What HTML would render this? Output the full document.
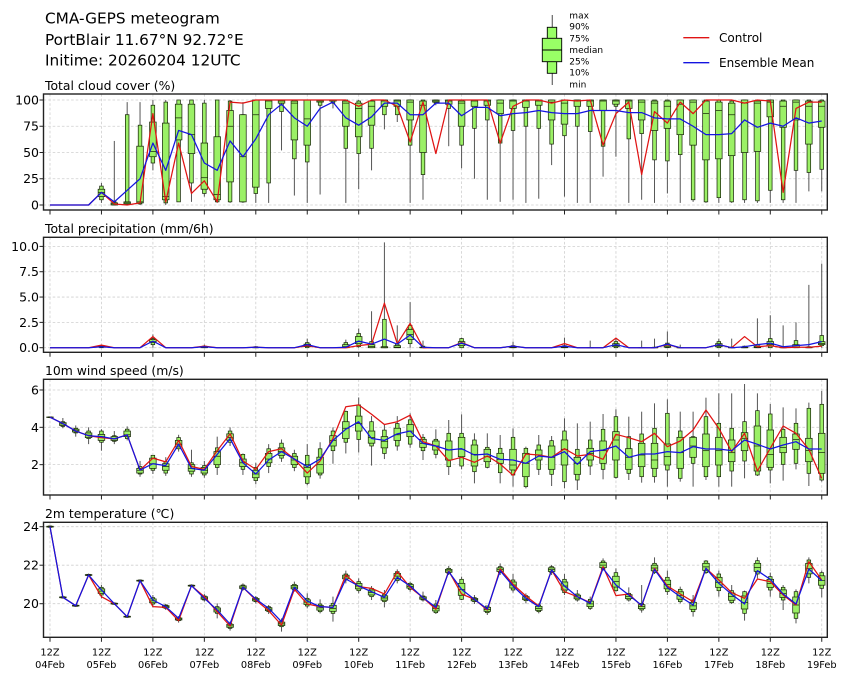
<!DOCTYPE html>
<html><head><meta charset="utf-8">
<style>
html,body{margin:0;padding:0;background:#fff;}
svg{display:block;font-family:"DejaVu Sans","Liberation Sans",sans-serif;}
</style></head>
<body>
<svg id="c" width="849" height="681" viewBox="0 0 849 681" xmlns="http://www.w3.org/2000/svg">
<rect width="849" height="681" fill="#fff"/>
<defs>
<clipPath id="cp0"><rect x="43.5" y="94" width="783.8" height="116"/></clipPath>
<clipPath id="cp1"><rect x="43.5" y="237.3" width="783.8" height="115"/></clipPath>
<clipPath id="cp2"><rect x="43.5" y="379.3" width="783.8" height="115.7"/></clipPath>
<clipPath id="cp3"><rect x="43.5" y="522.3" width="783.8" height="115"/></clipPath>
</defs>
<g id="grid"></g>
<g id="data"></g>
<g id="frame"></g>

<!-- titles -->
<g fill="#000" font-size="15.3">
<text x="45" y="23.3">CMA-GEPS meteogram</text>
<text x="45" y="45">PortBlair 11.67°N 92.72°E</text>
<text x="45" y="65.7">Initime: 20260204 12UTC</text>
</g>

<!-- box legend -->
<line x1="552.3" y1="15" x2="552.3" y2="85" stroke="#666" stroke-width="1.2"/>
<rect x="547.3" y="27.3" width="9.4" height="46" fill="#99ff66" stroke="#000" stroke-width="0.9"/>
<rect x="542.3" y="38.3" width="19.4" height="23.4" fill="#99ff66" stroke="#000" stroke-width="0.9"/>
<line x1="542.3" y1="50" x2="561.7" y2="50" stroke="#000" stroke-width="0.9"/>
<g font-size="9" fill="#000">
<text x="569.3" y="18.3">max</text>
<text x="569.3" y="29.6">90%</text>
<text x="569.3" y="41.3">75%</text>
<text x="569.3" y="53.2">median</text>
<text x="569.3" y="64.3">25%</text>
<text x="569.3" y="75.6">10%</text>
<text x="569.3" y="87.4">min</text>
</g>

<!-- line legend -->
<line x1="683.3" y1="37.7" x2="709.3" y2="37.7" stroke="#e01414" stroke-width="1.3"/>
<line x1="683.3" y1="62.7" x2="709.3" y2="62.7" stroke="#1414e0" stroke-width="1.3"/>
<g font-size="12" fill="#000">
<text x="719" y="42">Control</text>
<text x="719" y="67">Ensemble Mean</text>
</g>

<!-- panel titles -->
<g font-size="12.4" fill="#000">
<text x="45" y="90">Total cloud cover (%)</text>
<text x="45" y="232.8">Total precipitation (mm/6h)</text>
<text x="45" y="375">10m wind speed (m/s)</text>
<text x="45" y="518">2m temperature (℃)</text>
</g>

<!-- y tick labels -->
<g font-size="12.5" fill="#000" text-anchor="end">
<text x="39" y="104.5">100</text>
<text x="39" y="130.7">75</text>
<text x="39" y="157">50</text>
<text x="39" y="183.2">25</text>
<text x="39" y="209.5">0</text>
<text x="39" y="250.9">10.0</text>
<text x="39" y="276.2">7.5</text>
<text x="39" y="301.5">5.0</text>
<text x="39" y="326.9">2.5</text>
<text x="39" y="352.2">0.0</text>
<text x="39" y="394.5">6</text>
<text x="39" y="431.8">4</text>
<text x="39" y="469.2">2</text>
<text x="39" y="531.2">24</text>
<text x="39" y="569.7">22</text>
<text x="39" y="608.2">20</text>
</g>

<!-- x tick labels -->
<g font-size="9.8" fill="#000" text-anchor="middle">
<text x="50" y="655.6">12Z</text><text x="50" y="667.8">04Feb</text>
<text x="101.45" y="655.6">12Z</text><text x="101.45" y="667.8">05Feb</text>
<text x="152.9" y="655.6">12Z</text><text x="152.9" y="667.8">06Feb</text>
<text x="204.35" y="655.6">12Z</text><text x="204.35" y="667.8">07Feb</text>
<text x="255.8" y="655.6">12Z</text><text x="255.8" y="667.8">08Feb</text>
<text x="307.25" y="655.6">12Z</text><text x="307.25" y="667.8">09Feb</text>
<text x="358.7" y="655.6">12Z</text><text x="358.7" y="667.8">10Feb</text>
<text x="410.15" y="655.6">12Z</text><text x="410.15" y="667.8">11Feb</text>
<text x="461.6" y="655.6">12Z</text><text x="461.6" y="667.8">12Feb</text>
<text x="513.05" y="655.6">12Z</text><text x="513.05" y="667.8">13Feb</text>
<text x="564.5" y="655.6">12Z</text><text x="564.5" y="667.8">14Feb</text>
<text x="615.95" y="655.6">12Z</text><text x="615.95" y="667.8">15Feb</text>
<text x="667.4" y="655.6">12Z</text><text x="667.4" y="667.8">16Feb</text>
<text x="718.85" y="655.6">12Z</text><text x="718.85" y="667.8">17Feb</text>
<text x="770.3" y="655.6">12Z</text><text x="770.3" y="667.8">18Feb</text>
<text x="821.75" y="655.6">12Z</text><text x="821.75" y="667.8">19Feb</text>
</g>
</svg>
<script>
(function(){
const NS='http://www.w3.org/2000/svg';
function el(tag,a,p){const e=document.createElementNS(NS,tag);for(const k in a)e.setAttribute(k,a[k]);p.appendChild(e);return e;}
const X=i=>50+i*12.862;
const L=43.5,R=827.3;
const P=[
 {t:94,b:210,yt:[0,25,50,75,100],f:v=>205-1.05*v},
 {t:237.3,b:352.3,yt:[0,2.5,5,7.5,10],f:v=>347.7-10.13*v},
 {t:379.3,b:495,yt:[2,4,6],f:v=>502-18.67*v},
 {t:522.3,b:637.3,yt:[20,22,24],f:v=>603.7-19.25*(v-20)}
];
const grid=document.getElementById('grid'),data=document.getElementById('data'),frame=document.getElementById('frame');
P.forEach((p,k)=>{
  for(let d=0;d<=15;d++){const x=50+51.45*d;
    el('line',{x1:x,x2:x,y1:p.t,y2:p.b,stroke:'#cfcfcf','stroke-width':0.8,'stroke-dasharray':'2.6,2'},grid);
    el('line',{x1:x,x2:x,y1:p.b,y2:p.b+4.5,stroke:'#222','stroke-width':1},frame);}
  p.yt.forEach(v=>{const y=p.f(v);
    el('line',{x1:L,x2:R,y1:y,y2:y,stroke:'#cfcfcf','stroke-width':0.8,'stroke-dasharray':'2.6,2'},grid);
    el('line',{x1:L-4,x2:L,y1:y,y2:y,stroke:'#222','stroke-width':1},frame);});
  el('rect',{x:L,y:p.t,width:R-L,height:p.b-p.t,fill:'none',stroke:'#222','stroke-width':1.4},frame);
});
const G=[0,1,2,3].map(k=>el('g',{'clip-path':'url(#cp'+k+')'},data));
// box with pixel ys: max,p90,p75,med,p25,p10,min
function box(g,x,ys){
  const [mx,p90,p75,md,p25,p10,mn]=ys;
  if(Math.abs(mn-mx)<0.01)return;
  el('line',{x1:x,x2:x,y1:mx,y2:mn,stroke:'#555','stroke-width':1},g);
  el('rect',{x:x-1.8,y:p90,width:3.6,height:Math.max(0.1,p10-p90),fill:'#9bf066',stroke:'#1c2c0c','stroke-width':0.75},g);
  el('rect',{x:x-3.3,y:p75,width:6.6,height:Math.max(0.1,p25-p75),fill:'#9bf066',stroke:'#1c2c0c','stroke-width':0.75},g);
  el('line',{x1:x-3.3,x2:x+3.3,y1:md,y2:md,stroke:'#1c2c0c','stroke-width':0.75},g);
}
function line(g,ys,col){
  el('polyline',{points:ys.map((y,i)=>X(i).toFixed(2)+','+y.toFixed(2)).join(' '),fill:'none',stroke:col,'stroke-width':1.25,'stroke-linejoin':'round'},g);
}
function vbox(g,f,i,v){ // v=[min,p10,p25,med,p75,p90,max]
  box(g,X(i),[f(v[6]),f(v[5]),f(v[4]),f(v[3]),f(v[2]),f(v[1]),f(v[0])]);
}
const RED='#e01414',BLUE='#1414e0';

// ---------- Panel 1: cloud ----------
const cb=[[0,0,0,0,0,0,0],[0,0,0,0,0,0,0],[0,0,0,0,0,0,0],[0,0,0,0,0,0,0],
[2,5,8,12,15,18,21],[0,0,0,1,2,3,61],[0,1,1,2,3,86,98],[0,1,2,3,56,76,98],
[33,40,46,51,79,95,100],[0,2,5,8,78,98,100],[3,3,62,83,96,100,100],[3,21,49,67,96,100,100],
[8,11,15,26,59,97,100],[2,3,5,10,65,100,100],[2,3,22,75,90,99,100],[2,3,3,46,86,86,98],
[2,11,17,86,100,100,100],[2,21,92,99,100,100,100],[52,89,97,99,100,100,100],[9,44,62,97,99,100,100],
[2,41,57,82,100,100,100],[10,95,98,99,100,100,100],[92,97,99,100,100,100,100],[2,54,75,97,99,100,100],
[15,49,65,92,97,99,100],[33,54,76,94,99,99,100],[72,86,94,99,100,100,100],[79,86,94,99,100,100,100],
[2,57,81,98,100,100,100],[5,29,50,95,99,100,100],[95,97,98,99,100,100,100],[56,92,96,99,100,100,100],
[35,57,75,97,99,100,100],[25,73,94,99,100,100,100],[5,81,95,99,100,100,100],[3,59,87,97,100,100,100],
[5,71,92,99,100,100,100],[2,75,93,99,100,100,100],[6,73,95,99,100,100,100],[38,58,81,98,100,100,100],
[8,66,77,97,100,100,100],[2,75,94,99,100,100,100],[2,70,94,99,100,100,100],[27,56,90,99,100,100,100],
[46,94,96,99,100,100,100],[2,63,92,99,100,100,100],[5,68,81,98,100,100,100],[2,43,71,97,99,100,100],
[11,42,73,94,99,100,100],[2,48,67,96,100,100,100],[3,5,57,98,100,100,100],[2,3,43,87,99,100,100],
[2,7,44,90,98,100,100],[2,3,47,86,97,99,100],[2,5,50,97,100,100,100],[2,4,51,97,99,100,100],
[2,14,84,98,100,100,100],[2,5,74,94,99,100,100],[2,33,81,98,100,100,100],[13,31,58,94,99,100,100],
[13,34,74,94,99,100,100]];
const r1=[0,0,0,0,12,1,0,2,87,3,59,11,23,3,98,97,100,100,100,100,100,100,100,100,94,100,100,94,60,98,49,100,100,100,100,59,94,100,100,97,100,99,100,57,87,98,29,89,78,98,87,100,100,100,97,100,99,12,92,98,98];
const b1=[0,0,0,0,12,3,14,25,59,33,71,67,40,33,61,46,63,86,96,83,75,92,98,83,76,84,97,97,86,86,97,97,85,93,93,85,87,88,90,88,87,87,90,90,90,88,88,83,82,82,75,67,67,68,81,74,78,75,83,78,80];
cb.forEach((v,i)=>vbox(G[0],P[0].f,i,v));
line(G[0],r1.map(P[0].f),RED);line(G[0],b1.map(P[0].f),BLUE);

// ---------- Panel 2: precip ----------
const pb={4:[0,0,0.05,0.1,0.15,0.2,0.3],8:[0,0.3,0.5,0.6,0.8,0.9,1.3],12:[0,0,0,0.05,0.1,0.15,0.3],16:[0,0,0,0,0.05,0.1,0.15],
20:[0,0,0.1,0.2,0.35,0.5,0.9],23:[0,0,0,0.1,0.3,0.5,0.8],24:[0,0.1,0.4,0.6,1.1,1.4,1.9],25:[0,0,0,0.1,0.3,0.6,3.6],
26:[0,0,0,0,0.1,2.8,10.4],27:[0,0,0,0.05,0.2,0.35,2.2],28:[0,0.4,0.8,1.3,1.8,2.2,4.5],29:[0,0,0,0,0.05,0.15,0.7],
32:[0,0,0.2,0.4,0.6,0.9,1.0],36:[0,0,0,0.05,0.1,0.2,0.6],40:[0,0,0,0.05,0.1,0.2,1.0],42:[0,0,0,0,0,0,0.7],
44:[0,0,0.1,0.2,0.4,0.6,1.0],46:[0,0,0,0,0,0,0.7],47:[0,0,0,0,0,0.05,0.9],48:[0,0,0.05,0.15,0.3,0.45,1.6],
49:[0,0,0,0,0,0,0.3],52:[0,0,0.1,0.2,0.4,0.6,0.9],53:[0,0,0,0,0,0.05,0.9],54:[0,0,0,0,0.05,0.15,0.2],
55:[0,0,0,0.05,0.15,0.3,2.9],56:[0,0,0.15,0.3,0.6,0.9,3.2],57:[0,0,0,0,0.05,0.1,2.2],58:[0,0,0,0.05,0.3,0.7,2.5],
59:[0,0,0,0,0.05,0.1,6.2],60:[0,0.2,0.3,0.4,0.6,1.2,8.3]};
const r2o={4:0.25,8:1.1,12:0.15,16:0.05,20:0.2,24:0.2,25:0.35,26:4.4,27:0.4,28:2.4,32:0.5,36:0.15,40:0.4,44:0.95,48:0.3,52:0.3,54:1.1,55:0.1,56:0.2,58:0.05,59:0.05,60:0.15};
const b2o={4:0.1,8:0.65,12:0.1,16:0.05,20:0.3,23:0.05,24:0.65,25:0.35,26:0.85,27:0.35,28:1.25,29:0.05,32:0.45,36:0.15,40:0.15,44:0.3,48:0.35,52:0.3,54:0.1,55:0.3,56:0.45,57:0.1,58:0.2,59:0.3,60:0.6};
for(const k in pb)vbox(G[1],P[1].f,+k,pb[k]);
const r2=[],b2=[];for(let i=0;i<61;i++){r2.push(P[1].f(r2o[i]||0));b2.push(P[1].f(b2o[i]||0));}
line(G[1],r2,RED);line(G[1],b2,BLUE);

// ---------- Panel 3: wind ----------
const wl=[[4.5,4.52,4.53,4.54,4.55,4.56,4.58],[3.95,4.05,4.1,4.18,4.25,4.3,4.5],[3.5,3.7,3.75,3.82,3.9,3.95,4.1],
[3.1,3.4,3.45,3.58,3.7,3.8,4.0],[2.75,3.2,3.3,3.5,3.62,3.8,3.9],[3.1,3.25,3.3,3.38,3.5,3.55,3.8],[3.3,3.4,3.5,3.6,3.8,3.9,4.05],
[1.35,1.5,1.55,1.7,1.8,1.9,2.2],[1.5,1.7,1.8,2.05,2.35,2.5,2.5],[1.4,1.55,1.7,1.9,2.05,2.15,2.4],[2.7,2.85,2.95,3.1,3.3,3.45,3.6],
[1.35,1.5,1.65,1.8,2.0,2.1,2.8],[1.3,1.45,1.55,1.7,1.85,1.95,2.2],[1.45,1.85,2.0,2.45,2.7,2.9,3.5],[3.0,3.2,3.3,3.45,3.65,3.8,4.0],
[1.45,1.75,1.9,2.1,2.3,2.55,2.6],[0.95,1.15,1.3,1.5,1.7,1.85,2.1],[1.55,1.9,2.1,2.3,2.6,2.85,3.1],[2.15,2.35,2.5,2.7,2.9,3.15,3.35],
[1.65,1.85,2.0,2.25,2.45,2.6,2.8],[0.9,1.0,1.35,1.85,2.0,2.5,3.1],[1.25,1.45,1.55,2.0,2.4,2.85,3.2],[2.05,2.75,3.0,3.3,3.55,3.8,4.0],
[2.6,3.2,3.4,3.95,4.3,4.85,4.9],[2.65,3.35,3.8,4.2,4.6,5.2,5.6],[1.95,3.0,3.15,3.45,3.8,4.3,4.6],[2.3,2.6,2.9,3.25,3.5,3.85,4.15],
[2.75,3.0,3.3,3.6,3.95,4.2,4.6],[2.9,3.1,3.5,3.8,4.15,4.4,4.75]];
wl.forEach((v,i)=>vbox(G[2],P[2].f,i,v));
const wr=[[222,232,238,250,262,272,300],[208,238,243,258,270,283,295],[180,220,243,270,300,320,345],[163,220,232,268,290,318,328],
[220,240,255,283,318,335,370],[220,262,268,290,305,322,325],[225,265,280,298,310,338,370],[205,232,268,315,330,345,380],
[260,265,280,310,350,380,385],[225,255,270,285,300,328,345],[228,242,258,292,328,343,378],[175,213,240,268,315,365,385],
[190,268,292,310,343,360,390],[185,240,265,280,300,318,345],[162,208,243,272,310,328,358],[148,170,215,240,300,352,356],
[170,230,266,292,328,340,360],[155,222,250,285,320,350,368],[130,205,250,300,325,350,368],[118,160,252,290,315,330,380],
[155,213,232,278,325,355,365],[155,230,232,258,292,310,380],[113,170,222,272,320,350,360],[100,190,232,272,315,350,380],
[100,205,240,278,305,333,380],[72,185,218,235,272,303,355],[100,152,198,258,333,345,348],[132,162,210,283,322,330,370],
[142,208,232,262,278,313,362],[145,190,222,238,268,310,328],[128,145,235,272,305,340,378],[93,133,220,278,340,360,365]];
const Y3=y=>360+y/3;
wr.forEach((a,j)=>box(G[2],X(29+j),a.map(Y3)));
const r3l=[4.54,4.2,3.8,3.55,3.45,3.38,3.6,1.71,2.35,2.15,3.3,1.9,1.75,2.75,3.65,2.2,1.75,2.7,2.85,2.3,1.55,2.2,3.4,5.1,5.2,4.7,4.15,4.3,4.65];
const b3l=[4.54,4.2,3.8,3.55,3.5,3.38,3.6,1.71,2.05,1.95,3.1,1.8,1.7,2.55,3.4,2.1,1.5,2.25,2.7,2.3,1.9,2.3,3.3,3.9,4.3,3.4,3.3,3.65,3.8];
const r3r=[245,258,302,292,307,288,312,346,282,285,292,266,288,283,298,223,233,245,220,260,243,210,150,205,275,220,333,265,198,220,268,355];
const b3r=[250,258,270,266,285,282,298,300,310,288,292,275,313,275,270,258,292,282,282,275,278,260,267,267,272,240,253,267,255,245,267,267];
line(G[2],r3l.map(P[2].f).concat(r3r.map(Y3)),RED);
line(G[2],b3l.map(P[2].f).concat(b3r.map(Y3)),BLUE);

// ---------- Panel 4: temperature ----------
const Y4=y=>500+y/3;
const tb=[[76,78,82,84],[288,290,294,296],[313,315,319,321],[221,223,227,229],[255,262,285,295],[307,309,313,315],[346,348,352,354],
[238,240,244,246],[285,293,312,322],[312,315,325,330],[348,352,362,368],[253,255,259,261],[282,288,300,305],[310,320,340,355],
[365,370,385,392],[250,255,268,272],[288,293,305,310],[315,320,335,342],[355,363,380,395],[245,253,270,275],[280,295,318,325],
[298,312,335,340],[290,310,340,365],[212,222,240,250],[235,245,272,280],[258,265,290,300],[270,283,305,322],[208,215,242,250],
[245,250,268,275],[275,288,300,305],[300,312,338,342],[198,205,220,225],[230,238,298,300],[285,293,305,312],[318,318,338,345],
[190,200,218,225],[222,240,270,278],[280,287,302,310],[310,315,335,340],[195,200,218,225],[222,238,278,285],[270,282,300,305],
[290,298,325,330],[175,183,208,212],[205,218,272,275],[262,280,300,305],[255,310,330,338],[172,190,218,222],[212,232,275,285],
[260,268,305,310],[285,300,335,350],[180,183,218,222],[212,222,272,290],[255,272,308,312],[272,275,340,362],[172,182,222,235],
[218,230,270,290],[255,262,300,330],[268,275,355,370],[172,180,232,250],[212,218,265,292]];
tb.forEach((a,i)=>{const [wt,bt,bb,wb]=a;const d=bb-bt;
  box(G[3],X(i),[wt,bt,bt+0.2*d,(bt+bb)/2,bb-0.2*d,bb,wb].map(Y4));});
const r4=[80,292,317,225,290,311,350,242,320,322,362,257,290,335,378,262,300,332,375,268,312,320,322,225,260,265,282,215,262,
293,328,213,282,298,330,207,253,288,318,210,275,290,308,200,287,282,318,205,258,282,305,205,240,278,295,237,245,285,315,185,240];
const b4=[80,292,317,225,270,311,350,242,300,320,355,257,295,330,372,262,297,325,365,262,303,320,322,237,258,275,292,232,258,
293,322,215,268,298,327,212,258,295,320,210,258,290,310,205,255,285,316,208,262,290,315,205,250,283,312,212,238,282,312,207,242];
line(G[3],r4.map(Y4),RED);line(G[3],b4.map(Y4),BLUE);
})();
</script>
</body></html>
